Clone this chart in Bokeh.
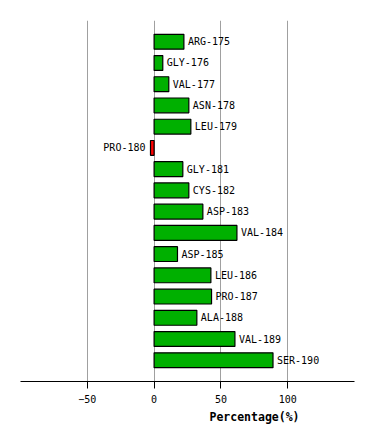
from bokeh.plotting import figure
from bokeh.models import Range1d, ColumnDataSource, FixedTicker, Title
from bokeh.core.properties import value
from bokeh.embed import file_html
from bokeh.resources import INLINE

residues = ["ARG-175", "GLY-176", "VAL-177", "ASN-178", "LEU-179", "PRO-180",
            "GLY-181", "CYS-182", "ASP-183", "VAL-184", "ASP-185", "LEU-186",
            "PRO-187", "ALA-188", "VAL-189", "SER-190"]
percent = [22.3, 6.5, 11, 26, 27.5, -2.7, 21.5, 26, 36.5, 62, 17.5, 42.5,
           43, 32, 60.5, 89]
x_ticks = [-50, 0, 50, 100]

pos = list(range(len(residues)))
colors = ["#00B000" if v >= 0 else "#FF0000" for v in percent]
src = ColumnDataSource(dict(y=pos, v=percent, c=colors, name=residues))
pos_src = ColumnDataSource(dict(y=[p for p, v in zip(pos, percent) if v >= 0],
                                v=[v for v in percent if v >= 0],
                                name=[n for n, v in zip(residues, percent) if v >= 0]))
neg_src = ColumnDataSource(dict(y=[p for p, v in zip(pos, percent) if v < 0],
                                v=[v for v in percent if v < 0],
                                name=[n for n, v in zip(residues, percent) if v < 0]))

p = figure(width=358, height=425, output_backend="svg", toolbar_location=None,
           x_range=Range1d(-100, 150), y_range=Range1d(16, -1),
           min_border_left=20, min_border_right=4, min_border_top=20,
           min_border_bottom=0)
p.outline_line_color = None
p.background_fill_color = "white"

p.hbar(y="y", left=0, right="v", height=0.7, fill_color="c",
       line_color="black", line_width=1.2, source=src)

p.text(x="v", y="y", text="name", source=pos_src, x_offset=4,
       text_font=value("DejaVu Sans Mono"), text_font_size="10px",
       text_baseline="middle", text_align="left", text_color="black")
p.text(x="v", y="y", text="name", source=neg_src, x_offset=-5,
       text_font=value("DejaVu Sans Mono"), text_font_size="10px",
       text_baseline="middle", text_align="right", text_color="black")

p.yaxis.visible = False
p.ygrid.visible = False
p.xgrid.ticker = FixedTicker(ticks=x_ticks)
p.xgrid.grid_line_color = "#A0A0A0"
p.xgrid.grid_line_width = 1
p.xaxis.ticker = FixedTicker(ticks=x_ticks)
p.xaxis.major_tick_in = 0
p.xaxis.major_tick_out = 7
p.xaxis.minor_tick_line_color = None
p.xaxis.axis_line_color = "black"
p.xaxis.major_tick_line_color = "black"
p.xaxis.major_label_text_font = "DejaVu Sans Mono"
p.xaxis.major_label_text_font_size = "10px"
p.xaxis.major_label_text_color = "black"
p.xaxis.major_label_standoff = 6

t = Title(text="Percentage(%)", align="left", offset=189, standoff=4,
          text_font="DejaVu Sans Mono", text_font_size="11.5px",
          text_font_style="bold", text_color="black")
p.add_layout(t, "below")

open("out.html", "w").write(file_html(p, INLINE))
